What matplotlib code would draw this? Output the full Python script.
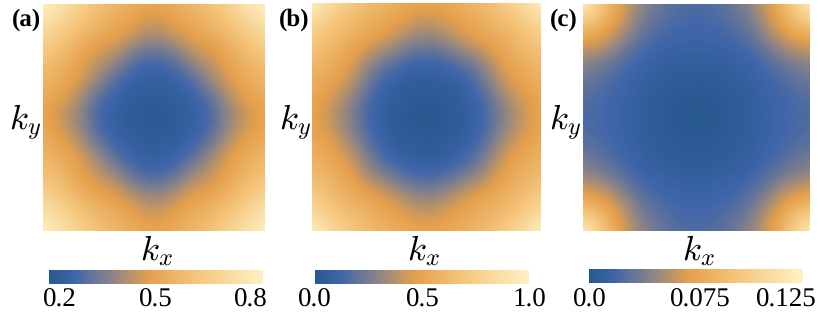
import numpy as np
import matplotlib
matplotlib.use("Agg")
import matplotlib.pyplot as plt
from matplotlib.colors import LinearSegmentedColormap, Normalize, TwoSlopeNorm

# values on a 13x13 grid, top row first
grid_a = [
    [.80, .74, .66, .60, .56, .52, .50, .52, .56, .60, .66, .74, .80],
    [.74, .67, .61, .56, .52, .48, .44, .48, .52, .56, .61, .67, .74],
    [.66, .61, .54, .49, .47, .41, .38, .41, .47, .49, .54, .61, .66],
    [.60, .56, .49, .44, .39, .30, .27, .30, .39, .44, .49, .56, .60],
    [.56, .52, .47, .39, .29, .25, .24, .25, .29, .39, .47, .52, .56],
    [.52, .48, .41, .30, .25, .23, .22, .23, .25, .30, .41, .48, .52],
    [.50, .44, .38, .27, .24, .22, .20, .22, .24, .27, .38, .44, .50],
    [.52, .48, .41, .30, .25, .23, .22, .23, .25, .30, .41, .48, .52],
    [.56, .52, .47, .39, .29, .25, .24, .25, .29, .39, .47, .52, .56],
    [.60, .56, .49, .44, .39, .30, .27, .30, .39, .44, .49, .56, .60],
    [.66, .61, .54, .49, .47, .41, .38, .41, .47, .49, .54, .61, .66],
    [.74, .67, .61, .56, .52, .48, .44, .48, .52, .56, .61, .67, .74],
    [.80, .74, .66, .60, .56, .52, .50, .52, .56, .60, .66, .74, .80],
]
grid_b = [
    [1.0, .84, .72, .63, .57, .52, .50, .52, .57, .63, .72, .84, 1.0],
    [.84, .70, .63, .56, .50, .44, .39, .44, .50, .56, .63, .70, .84],
    [.72, .63, .54, .48, .42, .32, .27, .32, .42, .48, .54, .63, .72],
    [.63, .56, .48, .33, .23, .14, .11, .14, .23, .33, .48, .56, .63],
    [.57, .50, .42, .23, .10, .06, .05, .06, .10, .23, .42, .50, .57],
    [.52, .44, .32, .14, .06, .03, .02, .03, .06, .14, .32, .44, .52],
    [.50, .39, .27, .11, .05, .02, .00, .02, .05, .11, .27, .39, .50],
    [.52, .44, .32, .14, .06, .03, .02, .03, .06, .14, .32, .44, .52],
    [.57, .50, .42, .23, .10, .06, .05, .06, .10, .23, .42, .50, .57],
    [.63, .56, .48, .33, .23, .14, .11, .14, .23, .33, .48, .56, .63],
    [.72, .63, .54, .48, .42, .32, .27, .32, .42, .48, .54, .63, .72],
    [.84, .70, .63, .56, .50, .44, .39, .44, .50, .56, .63, .70, .84],
    [1.0, .84, .72, .63, .57, .52, .50, .52, .57, .63, .72, .84, 1.0],
]
grid_c = [
    [.125, .095, .072, .046, .034, .025, .023, .025, .034, .046, .072, .095, .125],
    [.095, .085, .066, .038, .027, .021, .019, .021, .027, .038, .066, .085, .095],
    [.072, .066, .045, .027, .019, .016, .015, .016, .019, .027, .045, .066, .072],
    [.046, .038, .027, .017, .012, .010, .009, .010, .012, .017, .027, .038, .046],
    [.034, .027, .019, .012, .008, .006, .005, .006, .008, .012, .019, .027, .034],
    [.025, .021, .016, .010, .006, .003, .002, .003, .006, .010, .016, .021, .025],
    [.023, .019, .015, .009, .005, .002, .000, .002, .005, .009, .015, .019, .023],
    [.025, .021, .016, .010, .006, .003, .002, .003, .006, .010, .016, .021, .025],
    [.034, .027, .019, .012, .008, .006, .005, .006, .008, .012, .019, .027, .034],
    [.046, .038, .027, .017, .012, .010, .009, .010, .012, .017, .027, .038, .046],
    [.072, .066, .045, .027, .019, .016, .015, .016, .019, .027, .045, .066, .072],
    [.095, .085, .066, .038, .027, .021, .019, .021, .027, .038, .066, .085, .095],
    [.125, .095, .072, .046, .034, .025, .023, .025, .034, .046, .072, .095, .125],
]
panel_names = ["(a)", "(b)", "(c)"]
ticks_a = ["0.2", "0.5", "0.8"]
ticks_b = ["0.0", "0.5", "1.0"]
ticks_c = ["0.0", "0.075", "0.125"]

W, H = 830, 321
plt.rcParams["font.family"] = "serif"
plt.rcParams["font.serif"] = ["Liberation Serif", "DejaVu Serif"]
plt.rcParams["mathtext.fontset"] = "cm"
plt.rcParams["text.hinting"] = "no_hinting"
plt.rcParams["text.hinting_factor"] = 1

cmap = LinearSegmentedColormap.from_list("bo", [
    (0.0, "#27588f"), (0.12, "#3f66aa"), (0.3, "#8f8585"),
    (0.47, "#e5a04c"), (0.7, "#f5c77e"), (1.0, "#fff1c4")])


def box(left, top, right, bottom):
    return [left / W, 1 - bottom / H, (right - left) / W, (bottom - top) / H]


def draw_panel(grid, norm, name, labels, hm, bar, lab_x, ky_x, kx_x, tick_x):
    ax = fig.add_axes(box(*hm))
    im = ax.imshow(np.array(grid), cmap=cmap, norm=norm, interpolation="bicubic", aspect="auto")
    ax.set_xlim(0, 12)
    ax.set_ylim(12, 0)
    ax.axis("off")

    cax = fig.add_axes(box(*bar))
    cb = fig.colorbar(im, cax=cax, orientation="horizontal")
    cb.set_ticks([])
    cb.minorticks_off()
    cb.outline.set_visible(False)

    fig.text(lab_x / W, 1 - 20 / H, name, fontsize=18, fontweight="bold", ha="center", va="center")
    fig.text(ky_x / W, 1 - 122 / H, r"$k_y$", fontsize=25, ha="center", va="center")
    fig.text(kx_x / W, 1 - 251 / H, r"$k_x$", fontsize=25, ha="center", va="center")
    for lab, x in zip(labels, tick_x):
        fig.text(x / W, 1 - 300 / H, lab, fontsize=19.5, ha="center", va="center")


fig = plt.figure(figsize=(W / 100, H / 100), dpi=100)

draw_panel(grid_a, Normalize(0.2, 0.8), panel_names[0], ticks_a,
           (43, 4, 265, 231), (49, 270, 263, 284), 26, 25, 156, (60, 156, 251))
draw_panel(grid_b, Normalize(0.0, 1.0), panel_names[1], ticks_b,
           (312, 3, 540, 231), (315, 270, 529, 284), 294, 295, 423, (315, 423, 529))
draw_panel(grid_c, TwoSlopeNorm(0.075, 0.0, 0.125), panel_names[2], ticks_c,
           (583, 4, 810, 231), (589, 269, 803, 283), 564, 565, 698, (590, 700, 786))

fig.savefig("out.png", dpi=100)
